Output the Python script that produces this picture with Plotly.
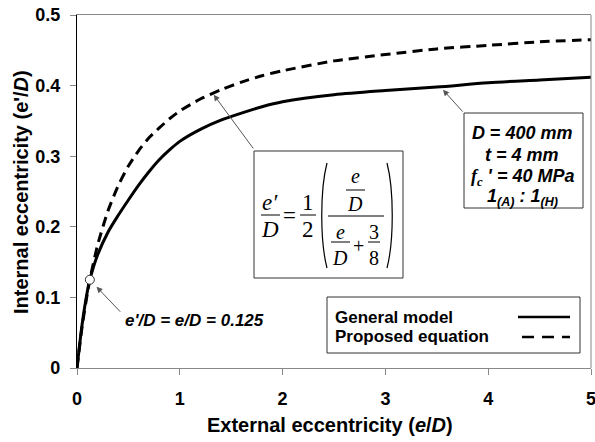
import plotly.graph_objects as go

# ---------------- data ----------------
ecc_ext = [0, 0.05, 0.1, 0.125, 0.2, 0.3, 0.4, 0.5, 0.6, 0.7, 0.8, 0.9, 1.0, 1.2, 1.4,
           1.6, 1.8, 2.0, 2.5, 3.0, 3.5, 4.0, 4.5, 5.0]
general_model = [0, 0.062, 0.108, 0.125, 0.160, 0.192, 0.216, 0.238, 0.259, 0.278, 0.295,
                 0.309, 0.321, 0.338, 0.351, 0.361, 0.370, 0.377, 0.387, 0.393, 0.398,
                 0.404, 0.408, 0.412]
proposed_eq = [0, 0.059, 0.105, 0.125, 0.174, 0.222, 0.258, 0.286, 0.308, 0.326, 0.340,
               0.353, 0.364, 0.381, 0.394, 0.405, 0.414, 0.421, 0.435, 0.444, 0.452,
               0.457, 0.462, 0.465]
point_x = [0.125]
point_y = [0.125]
x_ticks = [0, 1, 2, 3, 4, 5]
y_ticks = [0, 0.1, 0.2, 0.3, 0.4, 0.5]
y_tick_labels = ["0", "0.1", "0.2", "0.3", "0.4", "0.5"]

W, H = 595, 442
L, R, T, B = 77, 591, 15, 368

def P(px, py):
    return (px - L) / (R - L), (B - py) / (B - T)

SANS = "Liberation Sans, Arial, sans-serif"
SERIF = "Liberation Serif, Times New Roman, serif"

fig = go.Figure()
fig.add_trace(go.Scatter(x=ecc_ext, y=general_model, mode="lines",
                         line=dict(color="black", width=3, shape="spline", smoothing=0.8),
                         name="General model", showlegend=False))
fig.add_trace(go.Scatter(x=ecc_ext, y=proposed_eq, mode="lines",
                         line=dict(color="black", width=3, dash="10px,6px",
                                   shape="spline", smoothing=0.6),
                         name="Proposed equation", showlegend=False))
fig.add_trace(go.Scatter(x=point_x, y=point_y, mode="markers",
                         marker=dict(size=9, color="white",
                                     line=dict(color="#333333", width=1)),
                         showlegend=False))

shapes = []
annotations = []

def box(x0, y0, x1, y1):
    a, b = P(x0, y1)
    c, d = P(x1, y0)
    shapes.append(dict(type="rect", xref="paper", yref="paper", x0=a, y0=b, x1=c, y1=d,
                       line=dict(color="#333333", width=1), fillcolor="white", layer="above"))

def hline(x0, x1, y, width=1, dash="solid", color="black"):
    a, b = P(x0, y)
    c, _ = P(x1, y)
    shapes.append(dict(type="line", xref="paper", yref="paper", x0=a, y0=b, x1=c, y1=b,
                       line=dict(color=color, width=width, dash=dash), layer="above"))

def text(px, py, t, size, family=SANS, xanchor="center", color="black", angle=0):
    a, b = P(px, py)
    annotations.append(dict(xref="paper", yref="paper", x=a, y=b, text=t, showarrow=False,
                            xanchor=xanchor, yanchor="middle", textangle=angle,
                            font=dict(size=size, family=family, color=color)))

def arrow(tx, ty, hx, hy):
    annotations.append(dict(x=hx, y=hy, ax=tx, ay=ty, xref="x", yref="y", axref="x", ayref="y",
                            text="", showarrow=True, arrowhead=2, arrowsize=1.2,
                            arrowwidth=1, arrowcolor="#555555"))

# right border (gray)
shapes.append(dict(type="line", xref="paper", yref="paper", x0=1, y0=0, x1=1, y1=1,
                   line=dict(color="#888888", width=1)))

# equation box
box(254, 151, 403, 278)
text(270, 202, "<i>e′</i>", 23, SERIF)
hline(261, 280, 215)
text(270, 229, "<i>D</i>", 23, SERIF)
text(289, 215, "=", 23, SERIF)
text(308, 202, "1", 23, SERIF)
hline(300, 316, 215)
text(308, 229, "2", 23, SERIF)
# parentheses
for xs, sgn in ((322, 1), (392, -1)):
    a0, b0 = P(xs + 5 * sgn, 163)
    a1, b1 = P(xs - 2 * sgn, 190)
    a2, b2 = P(xs - 2 * sgn, 241)
    a3, b3 = P(xs + 5 * sgn, 268)
    shapes.append(dict(type="path", xref="paper", yref="paper",
                       path=f"M {a0},{b0} C {a1},{b1} {a2},{b2} {a3},{b3}",
                       line=dict(color="black", width=1.2), layer="above"))
text(355, 176, "<i>e</i>", 20, SERIF)
hline(346, 365, 190)
text(355, 204, "<i>D</i>", 20, SERIF)
hline(328, 384, 216)
text(340, 232, "<i>e</i>", 20, SERIF)
hline(331, 350, 242)
text(340, 258, "<i>D</i>", 20, SERIF)
text(358, 246, "+", 20, SERIF)
text(374, 232, "3", 20, SERIF)
hline(368, 380, 242)
text(374, 258, "8", 20, SERIF)

# parameter box
box(464, 113, 583, 208)
text(522, 133, "<b><i>D</i> = <i>400 mm</i></b>", 18)
text(522, 155, "<b><i>t = 4 mm</i></b>", 18)
text(522, 177, "<b><i><span style='font-family:Liberation Serif'>f<sub>c</sub></span> ' = 40 MPa</i></b>", 18)
text(522, 197, "<b><i>1<sub>(A)</sub> : 1<sub>(H)</sub></i></b>", 18)

# legend box
box(327, 297, 580, 353)
text(333, 317, "<b>General model</b>", 17, xanchor="left")
text(333, 336, "<b>Proposed equation</b>", 17, xanchor="left")
hline(518, 570, 317, width=2.5)
hline(522, 570, 337, width=2.5, dash="12px,8px")

# point label
text(123, 320, "<b><i>e'/D = e/D = 0.125</i></b>", 17, xanchor="left")

# arrows
arrow(0.435, 0.0775, 0.19, 0.115)
arrow(1.725, 0.309, 1.33, 0.387)
arrow(3.765, 0.361, 3.56, 0.394)

# axis titles
text(21, 192, "<b>Internal eccentricity (e'/<i>D</i>)</b>", 20, angle=-90)
text(330, 425, "<b>External eccentricity (<i>e</i>/<i>D</i>)</b>", 20)

fig.update_layout(
    width=W, height=H, autosize=False,
    margin=dict(l=L, r=W - R, t=T, b=H - B, pad=0, autoexpand=False),
    plot_bgcolor="white", paper_bgcolor="white",
    shapes=shapes, annotations=annotations,
    xaxis=dict(range=[0, 5], tickvals=x_ticks, showgrid=False, zeroline=False,
               showline=True, linecolor="#888888", linewidth=1, mirror=True,
               ticks="outside", ticklen=6, tickcolor="#888888",
               tickfont=dict(size=18, family=SANS, color="black", weight="bold"),
               ticklabelstandoff=8, ticklabeloverflow="allow"),
    yaxis=dict(range=[0, 0.5], tickvals=y_ticks, ticktext=y_tick_labels, showgrid=False,
               zeroline=False, showline=True, linecolor="black", linewidth=1.2,
               ticks="outside", ticklen=6, tickcolor="#888888",
               tickfont=dict(size=18, family=SANS, color="black", weight="bold"),
               ticklabelstandoff=6),
)

fig.write_html("out.html")
